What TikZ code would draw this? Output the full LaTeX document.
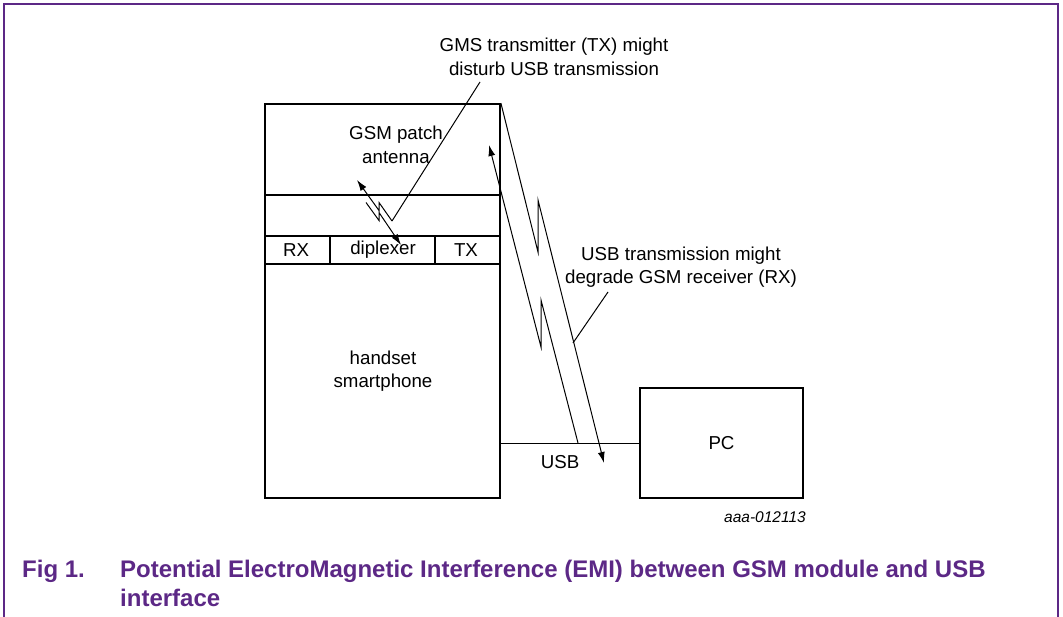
\documentclass[tikz,border=0pt]{standalone}
\usepackage{fontspec}
\setmainfont{Liberation Sans}
\usepackage{tikz}
\usetikzlibrary{positioning, arrows.meta}
\definecolor{figpurple}{RGB}{92,40,134}

\tikzset{
  box/.style={draw, line width=1.8pt, inner sep=0pt},
  lbl/.style={font=\fontsize{18.7}{23.5}\selectfont, align=center, inner sep=0pt},
  thin/.style={line width=1pt},
  tipped/.style={thin, -{Latex[length=11pt,width=7pt]}},
  capt/.style={font=\fontsize{24}{28}\selectfont\bfseries, text=figpurple, anchor=base west, inner sep=0pt}
}

\begin{document}
\begin{tikzpicture}[x=1pt, y=-1pt]
    \useasboundingbox (0,0) rectangle (1063,617);
    \draw[figpurple, line width=1.5pt] (4,617) -- (4,4) -- (1058,4) -- (1058,617);

    % handset with antenna and diplexer sections
    \node[box, minimum width=235pt, minimum height=394pt] (handset) at (382.5,301) {};
    \draw[line width=1.8pt] (265,195) -- (500,195);
    \draw[line width=1.8pt] (265,236) -- (500,236);
    \draw[line width=1.8pt] (265,264) -- (500,264);
    \draw[line width=1.8pt] (330,236) -- (330,264);
    \draw[line width=1.8pt] (435,236) -- (435,264);
    \node[lbl] (ant) at (396,145) {GSM patch\\antenna};
    \node[lbl] (rx) at (296,250) {RX};
    \node[lbl] (dip) at (383,250) {diplexer};
    \node[lbl] (tx) at (466,250) {TX};
    \node[lbl] (phone) at (383,371) {handset\\smartphone};

    % PC and USB cable
    \node[box, lbl, minimum width=163pt, minimum height=110pt] (pc) at (721.5,443) {PC};
    \draw[thin] (pc.west -| handset.east) -- (pc.west);
    \node[lbl] (usb) at (560,462) {USB};

    % interference paths
    \coordinate (aturn) at (538,252);
    \coordinate (aback) at (538,200);
    \coordinate (aend) at (604,463);
    \coordinate (bstart) at (578,443);
    \coordinate (bturn) at (541,300);
    \coordinate (bback) at (541,347);
    \coordinate (bend) at (489,145);
    \draw[tipped] (handset.north east) -- (aturn) -- (aback) -- (aend);
    \draw[tipped] (bstart) -- (bturn) -- (bback) -- (bend);

    \coordinate (sa) at (392,221);
    \coordinate (saturn) at (379,202.5);
    \coordinate (saback) at (379,210.5);
    \coordinate (send) at (357,180);
    \coordinate (sb) at (366,202.5);
    \coordinate (sbturn) at (379,220.5);
    \coordinate (sbback) at (379,212.5);
    \coordinate (sbend) at (401,245);
    \draw[tipped] (sa) -- (saturn) -- (saback) -- (send);
    \draw[tipped] (sb) -- (sbturn) -- (sbback) -- (sbend);

    % notes
    \node[lbl] (txnote) at (554,57) {GMS transmitter (TX) might\\disturb USB transmission};
    \node[lbl] (rxnote) at (681,267) {USB transmission might\\degrade GSM receiver (RX)};
    \coordinate (txfoot) at (480,82);
    \coordinate (rxfoot) at (608,292);
    \coordinate (rxhit) at (573,343);
    \draw[thin] (txfoot) -- (sa);
    \draw[thin] (rxfoot) -- (rxhit);

    \node[font=\fontsize{15.5}{18}\selectfont\itshape, anchor=base east, inner sep=0pt] (code) at (806,522) {aaa-012113};

    % caption
    \node[capt] (fig) at (22,577) {Fig 1.};
    \node[capt] (cap1) at (120,577) {Potential ElectroMagnetic Interference (EMI) between GSM module and USB};
    \node[capt] (cap2) at (120,606) {interface};
\end{tikzpicture}
\end{document}
